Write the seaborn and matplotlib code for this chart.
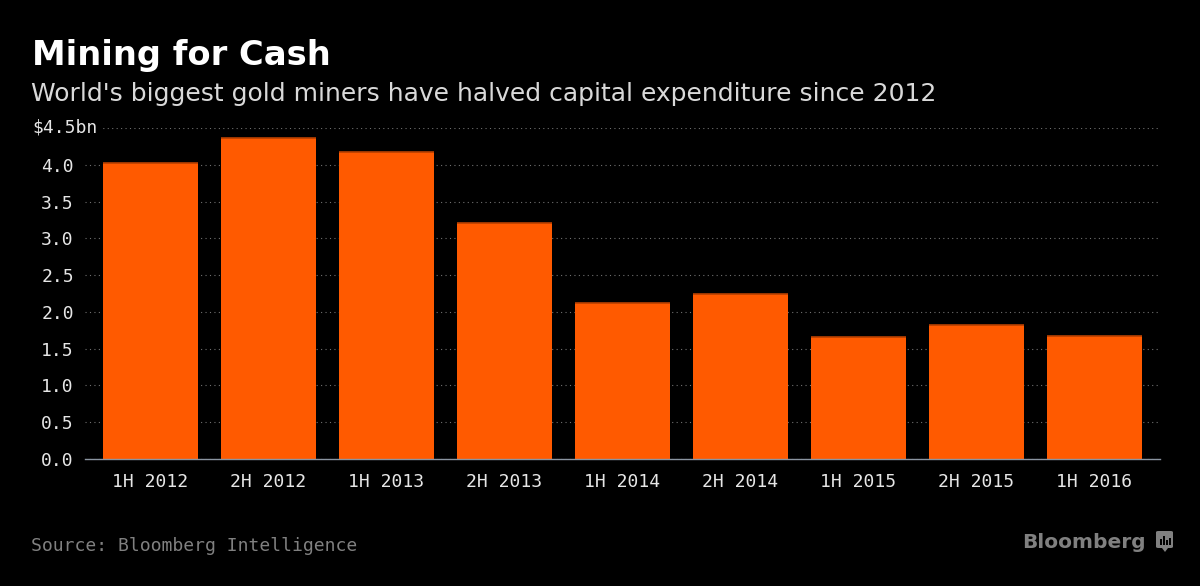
import numpy as np
import pandas as pd
import matplotlib
matplotlib.use('Agg')
import matplotlib.pyplot as plt
from matplotlib.patches import FancyBboxPatch, Rectangle, Polygon
import seaborn as sns

periods = ['1H 2012', '2H 2012', '1H 2013', '2H 2013', '1H 2014',
           '2H 2014', '1H 2015', '2H 2015', '1H 2016']
capex = [4.02, 4.36, 4.17, 3.21, 2.12, 2.24, 1.66, 1.82, 1.67]
y_ticks = [0.0, 0.5, 1.0, 1.5, 2.0, 2.5, 3.0, 3.5, 4.0, 4.5]

df = pd.DataFrame({'period': periods, 'capex': capex})

bg = '#000000'
bar_color = '#ff5a00'
text_color = '#e6e6e6'
grid_color = '#707070'
mono = 'DejaVu Sans Mono'

sns.set_style('dark')
plt.rcParams['font.family'] = ['DejaVu Sans']

fig = plt.figure(figsize=(12, 5.86), dpi=100, facecolor=bg)
ax = fig.add_axes([0.0708, 0.2167, 0.8959, 0.5649])
ax.set_facecolor(bg)

sns.barplot(data=df, x='period', y='capex', color=bar_color, saturation=1,
            width=0.8, linewidth=0, ax=ax)
# thin darker line along the top of each bar
for p in ax.patches:
    x0 = p.get_x()
    w = p.get_width()
    h = p.get_height()
    ax.plot([x0, x0 + w], [h, h], color='#b84000', lw=1.2, zorder=3,
            solid_capstyle='butt')

ax.set_xlim(-0.555, len(periods) - 1 + 0.555)
ax.set_ylim(0, 4.5)
ax.set_yticks(y_ticks)
ylabels = ['%.1f' % v for v in y_ticks]
ylabels[-1] = ''
ax.set_yticklabels(ylabels, fontfamily=mono, fontsize=13, color=text_color)
ax.set_xticks(range(len(periods)))
ax.set_xticklabels(periods, fontfamily=mono, fontsize=13, color=text_color)
ax.tick_params(axis='y', length=0, pad=8)
ax.tick_params(axis='x', length=5, width=1, color='#8a94a0', pad=5)
ax.set_xlabel('')
ax.set_ylabel('')

ax.grid(axis='y', color=grid_color, linestyle=(0, (1, 3)), linewidth=0.8)
ax.grid(axis='x', visible=False)
ax.set_axisbelow(True)
for s in ['top', 'right', 'left']:
    ax.spines[s].set_visible(False)
ax.spines['bottom'].set_color('#8a94a0')
ax.spines['bottom'].set_linewidth(1)

# top tick label with unit, covering the start of the gridline
trans = matplotlib.transforms.blended_transform_factory(fig.transFigure, ax.transData)
ax.text(32 / 1200, 4.5, '$4.5bn', transform=trans,
        fontfamily=mono, fontsize=13, color=text_color, ha='left', va='center',
        bbox=dict(facecolor=bg, edgecolor='none', pad=2))

fig.text(32 / 1200, 1 - 65 / 586, 'Mining for Cash', fontsize=24.3, fontweight='bold',
         color='white', ha='left', va='baseline')
fig.text(31 / 1200, 1 - 101 / 586,
         "World's biggest gold miners have halved capital expenditure since 2012",
         fontsize=18, color='#d9d9d9', ha='left', va='baseline')
fig.text(31 / 1200, 1 - 551 / 586, 'Source: Bloomberg Intelligence',
         fontfamily=mono, fontsize=13, color='#808080', ha='left', va='baseline')
fig.text(1146 / 1200, 1 - 548 / 586, 'Bloomberg', fontsize=14.5, fontweight='bold',
         color='#808080', ha='right', va='baseline')

# small logo icon
fig.patches.append(FancyBboxPatch((1156 / 1200, 1 - 548 / 586), 17 / 1200, 17 / 586,
                                  boxstyle='round,pad=0,rounding_size=0.002',
                                  transform=fig.transFigure, facecolor='#808080',
                                  edgecolor='none'))
fig.patches.append(Polygon([(1162 / 1200, 1 - 548 / 586), (1168 / 1200, 1 - 548 / 586),
                            (1165 / 1200, 1 - 552 / 586)], closed=True,
                           transform=fig.transFigure, facecolor='#808080', edgecolor='none'))
for bx, bh in [(1160, 6), (1163, 9), (1166, 5), (1169, 7)]:
    fig.patches.append(Rectangle((bx / 1200, 1 - 545 / 586), 1.5 / 1200, bh / 586,
                                 transform=fig.transFigure, facecolor=bg, edgecolor='none'))

fig.savefig('out.png', dpi=100, facecolor=bg)
